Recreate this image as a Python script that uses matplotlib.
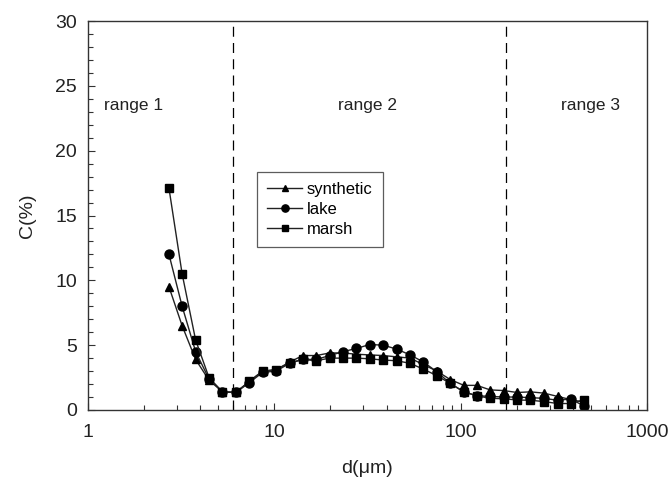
import matplotlib
matplotlib.use("Agg")
import matplotlib.pyplot as plt
from matplotlib.ticker import LogLocator, MultipleLocator, FixedLocator, NullFormatter, FixedFormatter

plt.rcParams['font.family'] = ['Liberation Sans', 'DejaVu Sans']

# particle size class midpoints (um)
diameter = [2.72, 3.20, 3.78, 4.46, 5.27, 6.21, 7.33, 8.65, 10.2, 12.1, 14.2, 16.8,
            19.8, 23.4, 27.6, 32.5, 38.4, 45.3, 53.5, 63.1, 74.5, 87.9, 104, 122,
            144, 170, 201, 237, 280, 331, 390, 460]

synthetic = [9.5, 6.5, 3.9, 2.3, 1.4, 1.35, 2.2, 3.0, 3.1, 3.7, 4.2, 4.2,
             4.4, 4.4, 4.3, 4.25, 4.2, 4.1, 4.0, 3.5, 3.0, 2.35, 1.9, 1.9,
             1.55, 1.5, 1.35, 1.4, 1.3, 1.05, 0.8, 0.6]

lake = [12.0, 8.0, 4.5, 2.4, 1.4, 1.35, 2.1, 2.9, 3.0, 3.6, 3.9, 3.9,
        4.2, 4.5, 4.75, 5.05, 5.0, 4.7, 4.25, 3.7, 2.95, 2.05, 1.4, 1.1,
        1.05, 1.0, 1.0, 0.95, 0.9, 0.75, 0.85, 0.3]

marsh = [17.1, 10.5, 5.4, 2.5, 1.4, 1.35, 2.2, 3.0, 3.1, 3.65, 3.9, 3.8,
         4.0, 4.0, 4.0, 3.95, 3.85, 3.8, 3.6, 3.15, 2.65, 2.05, 1.4, 1.1,
         0.9, 0.87, 0.77, 0.75, 0.65, 0.5, 0.5, 0.8]

range_bounds = [6.0, 175.0]
range_labels = ["range 1", "range 2", "range 3"]
range_label_x = [1.75, 31.5, 495.0]
range_label_y = 23.5

x_ticks = [1, 10, 100, 1000]
x_tick_labels = ["1", "10", "100", "1000"]
y_ticks = [0, 5, 10, 15, 20, 25, 30]

fig = plt.figure(figsize=(6.70, 4.92), dpi=100)
ax = fig.add_axes([88 / 670, 1 - 410 / 492, (647 - 88) / 670, (410 - 21) / 492])

line_kw = dict(color='#222222', lw=1.0, markerfacecolor='black', markeredgecolor='black')
ax.plot(diameter, synthetic, marker='^', ms=6, label='synthetic', **line_kw)
ax.plot(diameter, lake, marker='o', ms=6.5, label='lake', **line_kw)
ax.plot(diameter, marsh, marker='s', ms=6, label='marsh', **line_kw)

for xb in range_bounds:
    ax.axvline(xb, color='black', lw=0.9, ls=(0, (8, 5)))

for lbl, xl in zip(range_labels, range_label_x):
    ax.text(xl, range_label_y, lbl, ha='center', va='center', fontsize=12.5, color='#222222')

ax.set_xscale('log')
ax.set_xlim(1, 1000)
ax.set_ylim(0, 30)

ax.xaxis.set_major_locator(FixedLocator(x_ticks))
ax.xaxis.set_major_formatter(FixedFormatter(x_tick_labels))
ax.xaxis.set_minor_locator(LogLocator(base=10, subs=range(2, 10)))
ax.xaxis.set_minor_formatter(NullFormatter())
ax.yaxis.set_major_locator(FixedLocator(y_ticks))
ax.yaxis.set_minor_locator(MultipleLocator(1))

ax.tick_params(which='both', direction='in', top=False, right=False,
               color='#333333', width=0.8)
ax.tick_params(which='major', length=5, labelsize=14, labelcolor='#222222')
ax.tick_params(axis='y', which='major', pad=8)
ax.tick_params(axis='x', which='major', pad=10)
ax.tick_params(which='minor', length=3.5)

for s in ax.spines.values():
    s.set_color('#333333')
    s.set_linewidth(1.0)

ax.set_xlabel('d(\u03bcm)', fontsize=14, color='#222222', labelpad=14)
ax.set_ylabel('C(%)', fontsize=14, color='#222222', labelpad=14)

leg = ax.legend(loc='upper left', bbox_to_anchor=((257 - 88) / 559, 1 - (172 - 21) / 389),
                fontsize=12, frameon=True, fancybox=False, edgecolor='#333333',
                borderpad=0.6, handlelength=2.1, labelspacing=0.3, handletextpad=0.3,
                borderaxespad=0.0, markerscale=0.8)
leg.get_frame().set_linewidth(0.9)

fig.savefig('out.png', dpi=100, facecolor='white')
